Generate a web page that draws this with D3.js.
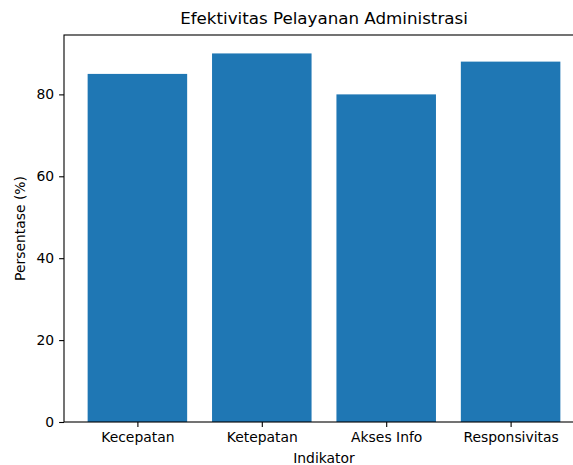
<!DOCTYPE html>
<html>
<head>
<meta charset="utf-8">
<script src="https://cdn.jsdelivr.net/npm/d3@7"></script>
<style>
  body { margin: 0; background: #fff; }
  svg { display: block; font-family: "DejaVu Sans", sans-serif; }
</style>
</head>
<body>
<script>
'use strict'
const categories = ['Kecepatan', 'Ketepatan', 'Akses Info', 'Responsivitas']
const values = [85, 90, 80, 88]
const yTicks = [0, 20, 40, 60, 80]

const width = 573
const height = 465
// plot area runs past the right edge, like the reference crop
const plotLeft = 64, plotRight = 584, plotTop = 35, plotBottom = 422

const svg = d3.select('body').append('svg')
  .attr('width', width)
  .attr('height', height)

// matplotlib-like linear x: bars of width 0.8, 5% margins
const x = d3.scaleLinear()
  .domain([-0.59, categories.length - 1 + 0.59])
  .range([plotLeft, plotRight])

const y = d3.scaleLinear()
  .domain([0, d3.max(values) * 1.05])
  .range([plotBottom, plotTop])

const barW = x(0.8) - x(0)

svg.selectAll('.bar')
  .data(values)
  .enter()
  .append('rect')
    .attr('class', 'bar')
    .attr('x', (d, i) => x(i) - barW / 2)
    .attr('y', d => y(d))
    .attr('width', barW)
    .attr('height', d => y(0) - y(d))
    .style('fill', '#1f77b4')

const xAxis = svg.append('g')
  .attr('transform', `translate(0,${plotBottom})`)
  .call(d3.axisBottom(x)
    .tickValues(d3.range(categories.length))
    .tickFormat(i => categories[i])
    .tickSize(4.9)
    .tickPadding(4.9))

const yAxis = svg.append('g')
  .attr('transform', `translate(${plotLeft},0)`)
  .call(d3.axisLeft(y)
    .tickValues(yTicks)
    .tickSize(4.9)
    .tickPadding(4.9))

for (const ax of [xAxis, yAxis]) {
  ax.attr('font-family', null).attr('font-size', null)
  ax.selectAll('text')
    .style('font-family', '"DejaVu Sans", sans-serif')
    .style('font-size', '13.9px')
    .style('fill', '#000')
  ax.selectAll('line').style('stroke', '#000').style('stroke-width', 1.1)
  ax.select('.domain').remove()
}

// spines
svg.append('rect')
  .attr('x', plotLeft)
  .attr('y', plotTop)
  .attr('width', plotRight - plotLeft)
  .attr('height', plotBottom - plotTop)
  .style('fill', 'none')
  .style('stroke', '#000')
  .style('stroke-width', 1.1)

svg.append('text')
  .attr('x', (plotLeft + plotRight) / 2)
  .attr('y', 24)
  .style('text-anchor', 'middle')
  .style('font-size', '16.7px')
  .text('Efektivitas Pelayanan Administrasi')

svg.append('text')
  .attr('x', (plotLeft + plotRight) / 2)
  .attr('y', 463)
  .style('text-anchor', 'middle')
  .style('font-size', '13.9px')
  .text('Indikator')

svg.append('text')
  .attr('transform', `translate(25,${(plotTop + plotBottom) / 2}) rotate(-90)`)
  .style('text-anchor', 'middle')
  .style('font-size', '13.9px')
  .text('Persentase (%)')
</script>
</body>
</html>
